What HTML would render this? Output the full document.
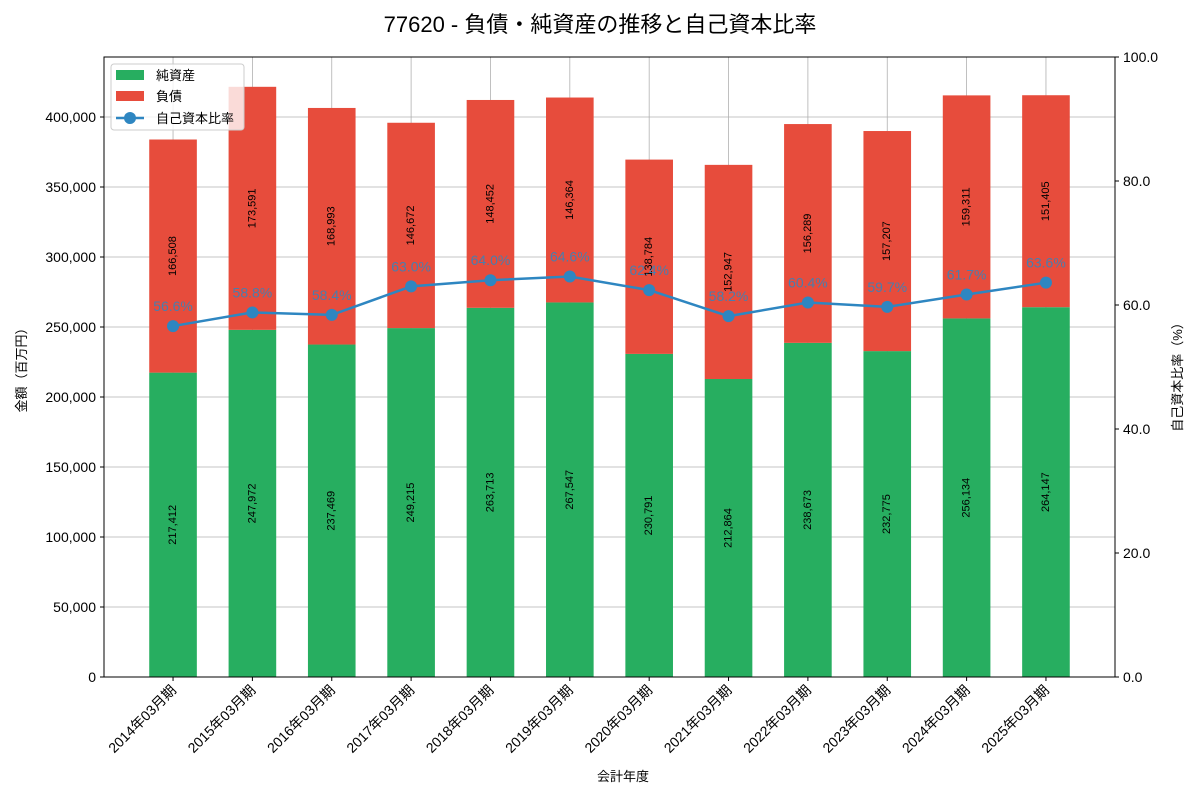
<!DOCTYPE html>
<html><head><meta charset="utf-8"><style>
body{margin:0;background:#fff}
svg text{font-family:"Liberation Sans","Noto Sans CJK JP",sans-serif}
</style></head><body>
<svg id="c" width="1200" height="800" xmlns="http://www.w3.org/2000/svg"></svg>
<script>
const categories=["2014年03月期","2015年03月期","2016年03月期","2017年03月期","2018年03月期","2019年03月期","2020年03月期","2021年03月期","2022年03月期","2023年03月期","2024年03月期","2025年03月期"];
const equity=[217412,247972,237469,249215,263713,267547,230791,212864,238673,232775,256134,264147];
const debt=[166508,173591,168993,146672,148452,146364,138784,152947,156289,157207,159311,151405];
const ratio=[56.6,58.8,58.4,63.0,64.0,64.6,62.4,58.2,60.4,59.7,61.7,63.6];
const leftTicks=[0,50000,100000,150000,200000,250000,300000,350000,400000];
const rightTicks=[0,20,40,60,80,100];
const L=104,R=1115,T=57,B=677;
const xmin=-0.87,xmax=11.87,ymax=442857;
const x=i=>L+(i-xmin)/(xmax-xmin)*(R-L);
const y=v=>B-v/ymax*(B-T);
const y2=v=>B-v/100*(B-T);
const svg=document.getElementById('c');
const NS="http://www.w3.org/2000/svg";
function add(tag,attrs,name,text){const e=document.createElementNS(NS,tag);for(const k in attrs)e.setAttribute(k,attrs[k]);


if(text!==undefined)e.textContent=text;svg.appendChild(e);return e;}
const fmt=v=>v.toLocaleString('en-US');
// grid
leftTicks.forEach(t=>add('line',{x1:L,x2:R,y1:y(t),y2:y(t),stroke:'#b0b0b0','stroke-width':0.8},'y-gridline'));
categories.forEach((c,i)=>add('line',{x1:x(i),x2:x(i),y1:T,y2:B,stroke:'#b0b0b0','stroke-width':0.8},'x-gridline'));
const bw=0.6/(xmax-xmin)*(R-L);
categories.forEach((c,i)=>{
  add('rect',{x:x(i)-bw/2,y:y(equity[i]),width:bw,height:B-y(equity[i]),fill:'#27ae60'},'bar-equity');
  add('rect',{x:x(i)-bw/2,y:y(equity[i]+debt[i]),width:bw,height:y(equity[i])-y(equity[i]+debt[i]),fill:'#e74c3c'},'bar-debt');
  let cy=y(equity[i]/2);
  add('text',{x:x(i),y:cy,'font-size':11,'text-anchor':'middle','dominant-baseline':'central',transform:`rotate(-90 ${x(i)} ${cy})`},'equity-value-label',fmt(equity[i]));
  cy=y(equity[i]+debt[i]/2);
  add('text',{x:x(i),y:cy,'font-size':11,'text-anchor':'middle','dominant-baseline':'central',transform:`rotate(-90 ${x(i)} ${cy})`},'debt-value-label',fmt(debt[i]));
});
// line
add('polyline',{points:ratio.map((r,i)=>x(i)+','+y2(r)).join(' '),fill:'none',stroke:'#2e86c1','stroke-width':2.5},'ratio-line');
ratio.forEach((r,i)=>{
  add('circle',{cx:x(i),cy:y2(r),r:6,fill:'#2e86c1'},'ratio-point');
  add('text',{x:x(i),y:y2(r)-15,'font-size':14,'text-anchor':'middle',fill:'#2e86c1','fill-opacity':0.85},'ratio-label',r.toFixed(1)+'%');
});
// axes
add('rect',{x:L,y:T,width:R-L,height:B-T,fill:'none',stroke:'#000','stroke-width':1},'plot-frame');
leftTicks.forEach(t=>{add('line',{x1:L-4,x2:L,y1:y(t),y2:y(t),stroke:'#000'},'y-tick');
  add('text',{x:L-8,y:y(t)+5,'font-size':14,'text-anchor':'end'},'y-tick-label',fmt(t));});
rightTicks.forEach(t=>{add('line',{x1:R,x2:R+4,y1:y2(t),y2:y2(t),stroke:'#000'},'y2-tick');
  add('text',{x:R+8,y:y2(t)+5,'font-size':14},'y2-tick-label',t.toFixed(1));});
categories.forEach((c,i)=>{add('line',{x1:x(i),x2:x(i),y1:B,y2:B+4,stroke:'#000'},'x-tick');
  add('text',{x:x(i)+4,y:B+14,'font-size':14,'text-anchor':'end',transform:`rotate(-45 ${x(i)+4} ${B+14})`},'x-tick-label',c);});
add('text',{x:600,y:32,'font-size':22,'text-anchor':'middle'},'chart-title','77620 - 負債・純資産の推移と自己資本比率');
add('text',{x:623,y:781,'font-size':13,'text-anchor':'middle'},'x-axis-title','会計年度');
add('text',{x:26,y:367,'font-size':13,'text-anchor':'middle',transform:'rotate(-90 26 367)'},'y-axis-title','金額（百万円）');
add('text',{x:1182,y:374,'font-size':13,'text-anchor':'middle',transform:'rotate(-90 1182 374)'},'y2-axis-title','自己資本比率（%）');
// legend
add('rect',{x:111,y:64,width:133,height:66,rx:3,fill:'#fff','fill-opacity':0.8,stroke:'#ccc'},'legend-box');
add('rect',{x:116,y:70,width:28,height:10,fill:'#27ae60'},'legend-swatch-equity');
add('text',{x:156,y:80,'font-size':13},'legend-label-equity','純資産');
add('rect',{x:116,y:91,width:28,height:10,fill:'#e74c3c'},'legend-swatch-debt');
add('text',{x:156,y:101,'font-size':13},'legend-label-debt','負債');
add('line',{x1:116,x2:144,y1:118,y2:118,stroke:'#2e86c1','stroke-width':2.5},'legend-line-ratio');
add('circle',{cx:130,cy:118,r:6,fill:'#2e86c1'},'legend-marker-ratio');
add('text',{x:156,y:123,'font-size':13},'legend-label-ratio','自己資本比率');
</script>
</body></html>
